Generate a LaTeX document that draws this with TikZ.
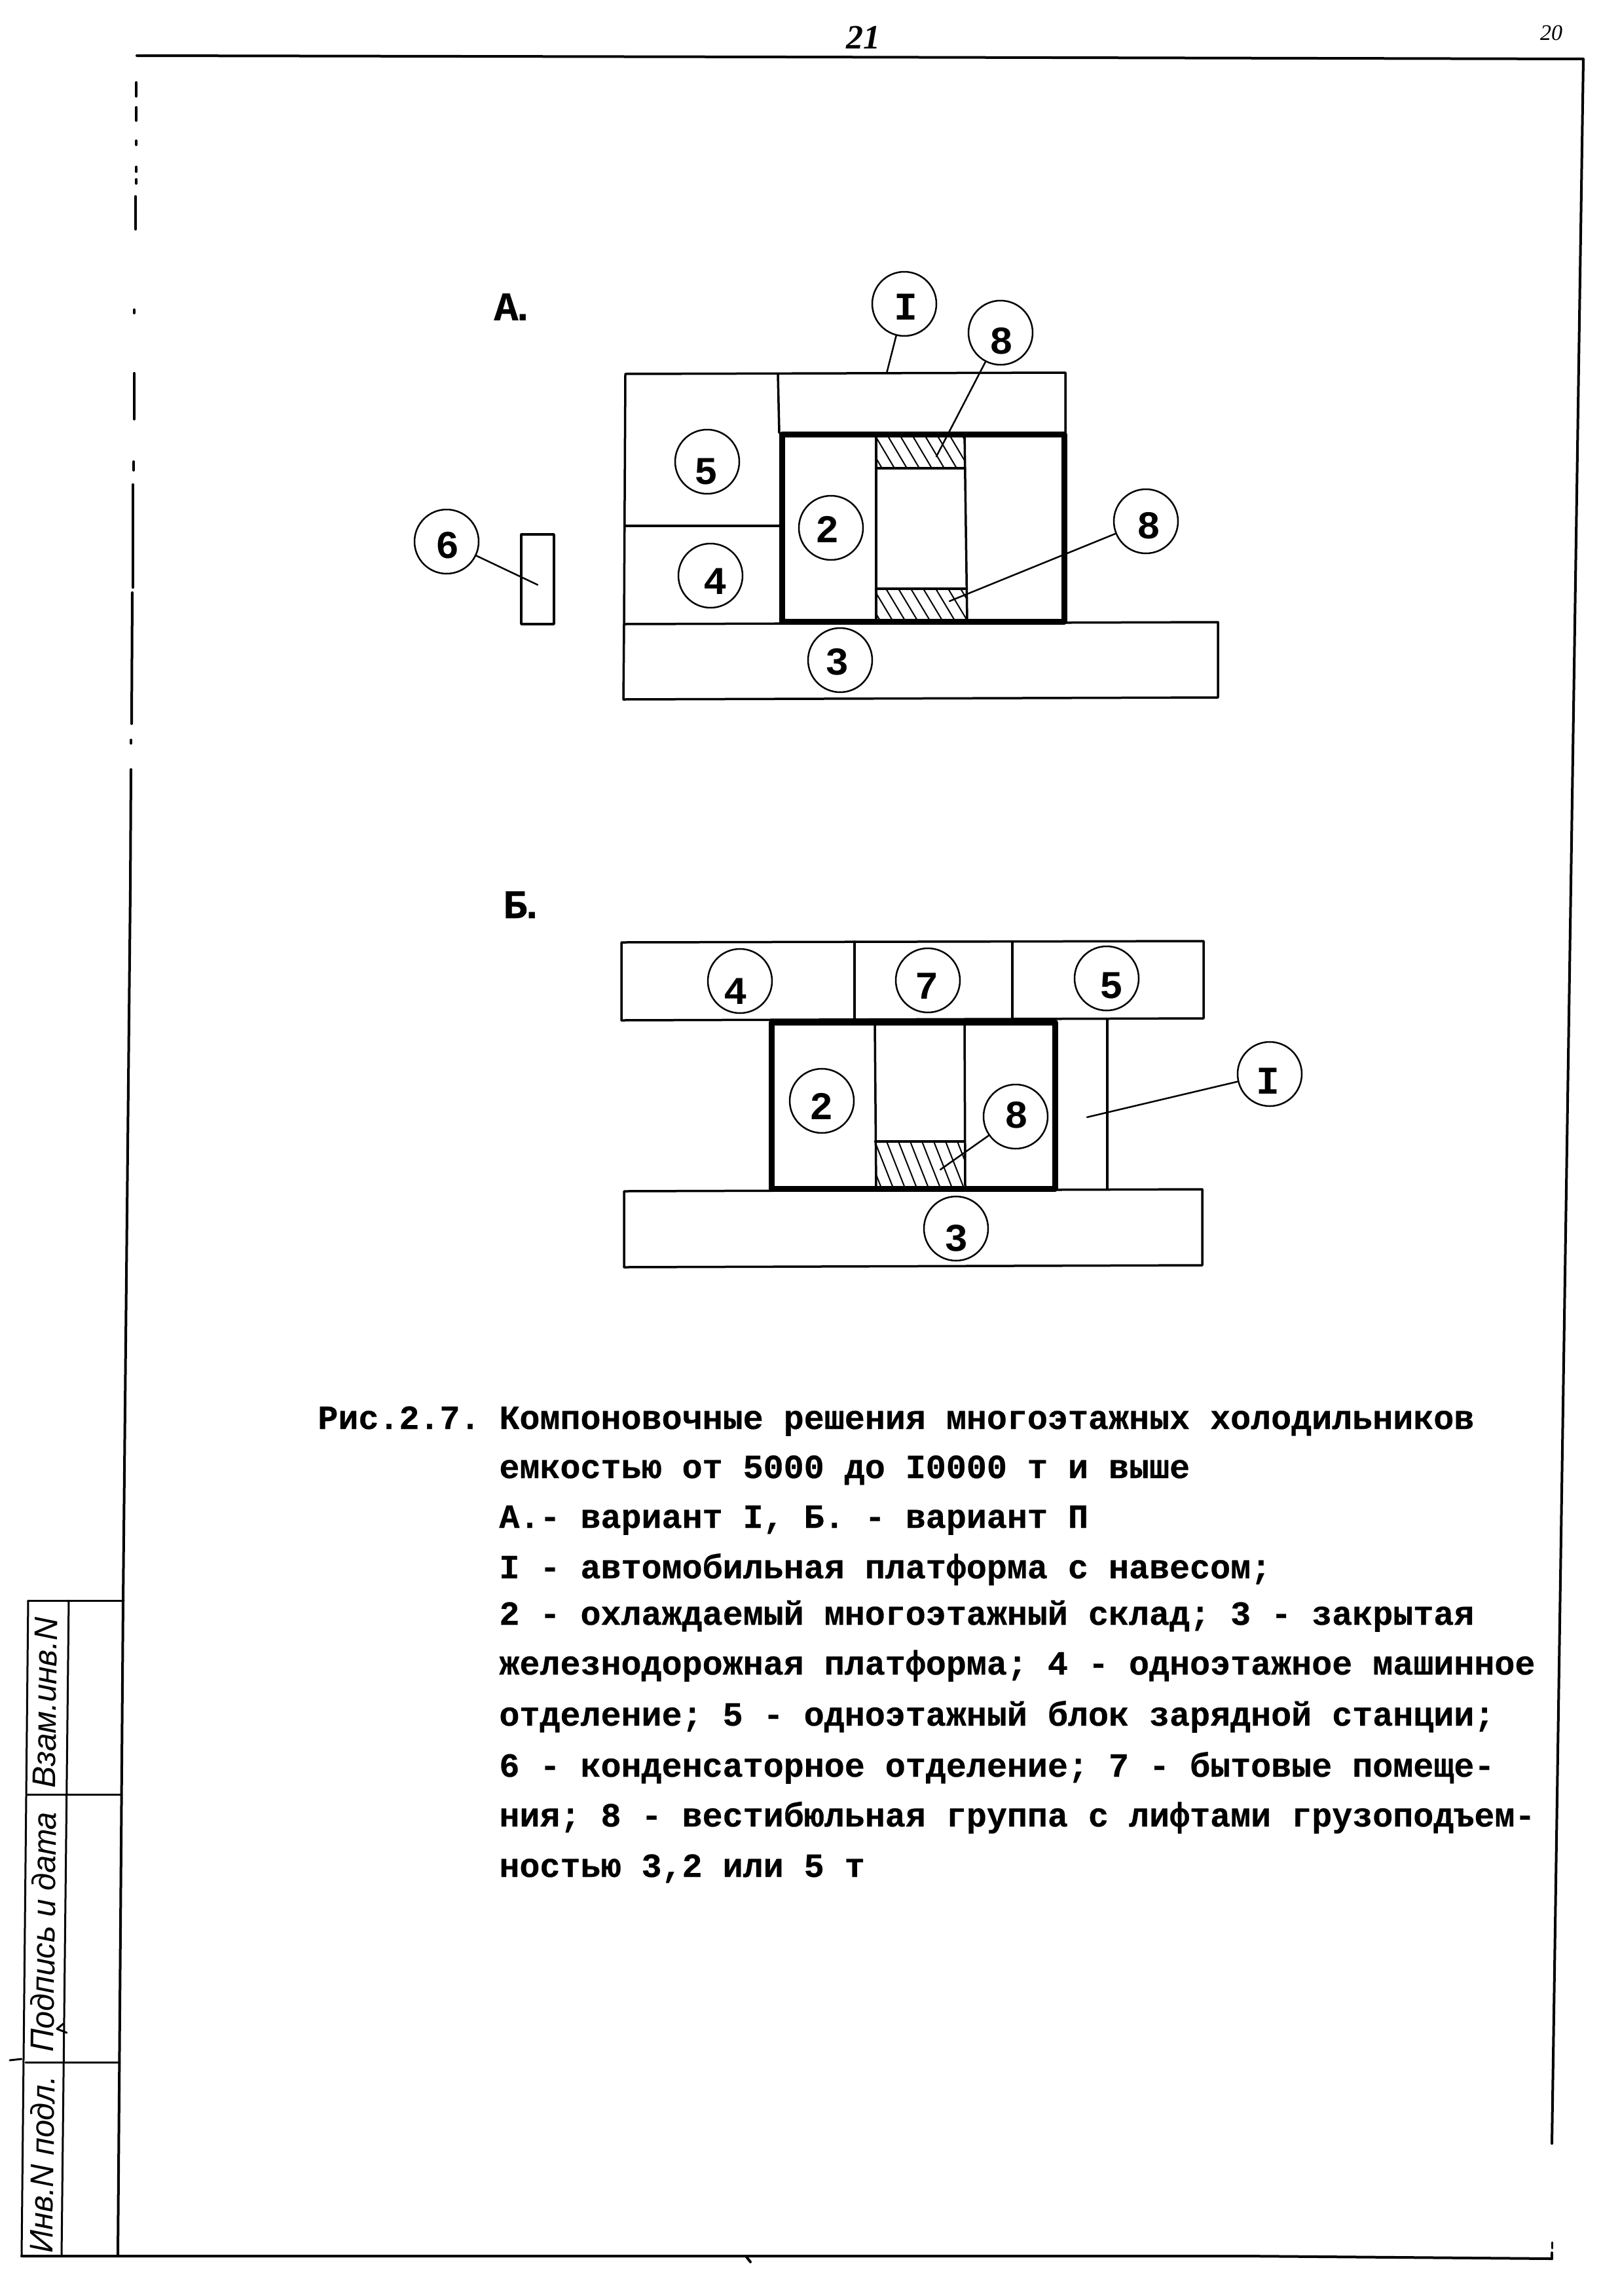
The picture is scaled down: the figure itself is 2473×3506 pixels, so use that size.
\documentclass[tikz,border=0pt]{standalone}
\usepackage{fontspec}
\setmonofont{Liberation Mono}
\newfontfamily\capfont[BoldFeatures={FakeBold=0.5}]{Liberation Mono}
\newfontfamily\handfont{Liberation Sans}
\newfontfamily\pagefont{Liberation Serif}
% digit inside a callout, off-centre by #1,#2 reference pixels, as typed on the original
\newcommand\dg[3]{\smash{\makebox[0pt]{\hspace{#1pt}\raisebox{\dimexpr-10pt-0.5pt*#2\relax}{#3}}}}
\tikzset{
  thinln/.style={line width=1.75pt,black},
  thickln/.style={line width=4.5pt,black},
  frameln/.style={line width=2pt,black},
  stampln/.style={line width=1.5pt,black},
  leader/.style={line width=1.25pt,black},
  hatchln/.style={line width=1pt,black},
  callout/.style={circle,draw,line width=1.25pt,fill=white,minimum size=49pt,inner sep=0pt,
    font=\ttfamily\bfseries\fontsize{30pt}{30pt}\selectfont},
  capline/.style={anchor=base west,inner sep=0pt,
    font=\capfont\bfseries\fontsize{25.85pt}{30pt}\selectfont},
  varlabel/.style={anchor=base west,inner sep=0pt,
    font=\capfont\bfseries\fontsize{31pt}{31pt}\selectfont},
  stamptext/.style={inner sep=0pt,rotate=89.3,
    font=\handfont\itshape\fontsize{25pt}{30pt}\selectfont},
}
\begin{document}
\begin{tikzpicture}[x=0.5pt,y=-0.5pt,line cap=round,line join=round]
\useasboundingbox (0,0) rectangle (2473,3506);
\fill[white] (0,0) rectangle (2473,3506);

% ---------- sheet frame
\draw[frameln] (209,85) -- (1200,87) -- (2418,90) -- (2370,3273);
\draw[frameln] (33,3445) -- (1900,3445) -- (2370,3449);
\draw[frameln] (1139,3445) -- (1146,3454);
\draw[frameln] (2370,3440) -- (2370,3449);
\draw[stampln] (2370,3424) -- (2370,3433);
% broken left edge of the frame
\draw[frameln] (208,126) -- (208,147);
\draw[frameln] (208,164) -- (208,184);
\draw[frameln] (208,215) -- (208,221);
\draw[frameln] (208,255) -- (208,262);
\draw[frameln] (208,274) -- (208,280);
\draw[frameln] (207,300) -- (207,350);
\draw[frameln] (205,473) -- (205,478);
\draw[frameln] (205,570) -- (205,640);
\draw[frameln] (204,705) -- (204,718);
\draw[frameln] (203,740) -- (203,897);
\draw[frameln] (202,905) -- (201,1105);
\draw[frameln] (200,1130) -- (200,1135);
\draw[frameln] (200,1175) -- (199,1360) -- (188,2444) -- (180,3445);

% ---------- stamp column
\draw[stampln] (43,2444) -- (189,2444);
\draw[stampln] (42,2740) -- (186,2740);
\draw[stampln] (39,3149) -- (183,3149);
\draw[stampln] (43,2444) -- (33,3445);
\draw[stampln] (105,2444) -- (94,3445);
\draw[stampln] (97,3090) -- (87,3098) -- (102,3104);
\draw[stampln] (15,3146) -- (33,3144);
\node[stamptext] (st1) at (64,3305) {\resizebox{135pt}{\height}{Инв.N подл.}};
\node[stamptext] (st2) at (66,2950) {\resizebox{183pt}{\height}{Подпись и дата}};
\node[stamptext] (st3) at (69,2600) {\resizebox{130pt}{\height}{Взам.инв.N}};

% ---------- page numbers
\node[inner sep=0pt,font=\pagefont\bfseries\itshape\fontsize{26pt}{26pt}\selectfont] (pg1) at (1318,57) {21};
\node[inner sep=0pt,font=\pagefont\itshape\fontsize{17pt}{17pt}\selectfont] (pg2) at (2369,50) {20};

% ---------- variant A
\node[varlabel] (la) at (754,489) {А\kern-6pt.};
\draw[thinln] (955,571) -- (1627,569) -- (1627,661);
\draw[thinln] (955,571) -- (953,953);
\draw[thinln] (1188,571) -- (1190,661);
\draw[thinln] (954,803) -- (1194,803);
\draw[thinln] (953,953) -- (1860,950) -- (1860,1065) -- (952,1068) -- cycle;
\draw[thinln] (796,816) rectangle (846,953);
\begin{scope}
  \clip (1338,661) rectangle (1474,715);
  \foreach \k in {0,...,9}
    \draw[hatchln] ({1296+19*\k},661) -- ({1328+19*\k},715);
\end{scope}
\begin{scope}
  \clip (1338,899) rectangle (1475,949);
  \foreach \k in {0,...,9}
    \draw[hatchln] ({1296+19*\k},899) -- ({1326+19*\k},949);
\end{scope}
\draw[thinln] (1338,661) -- (1338,949);
\draw[thinln] (1473,661) -- (1477,949);
\draw[line width=2.25pt] (1338,715) -- (1473,715);
\draw[line width=2.25pt] (1338,899) -- (1476,899);
\draw[thickln] (1194,663) rectangle (1625,949);

\coordinate (ta1) at (1354,570);
\coordinate (ta8) at (1430,697);
\coordinate (tb8) at (1450,918);
\coordinate (ta6) at (821,893);
\node[callout] (aI) at (1381,464) {\dg{2}{4}{I}};
\node[callout] (a8u) at (1528,508) {\dg{1}{12}{8}};
\node[callout] (a5) at (1080,705) {\dg{-2}{14}{5}};
\node[callout] (a2) at (1269,806) {\dg{-6}{2}{2}};
\node[callout] (a8l) at (1750,796) {\dg{4}{6}{8}};
\node[callout] (a6) at (682,827) {\dg{1}{5}{6}};
\node[callout] (a4) at (1085,879) {\dg{7}{8}{4}};
\node[callout] (a3) at (1283,1008) {\dg{-5}{2}{3}};
\draw[leader] (aI) -- (ta1);
\draw[leader] (a8u) -- (ta8);
\draw[leader] (a8l) -- (tb8);
\draw[leader] (a6) -- (ta6);

% ---------- variant B
\node[varlabel] (lb) at (768,1402) {Б\kern-6pt.};
\draw[thinln] (949,1439) -- (1838,1437) -- (1838,1555) -- (949,1558) -- cycle;
\draw[thinln] (1305,1438) -- (1305,1557);
\draw[thinln] (1546,1438) -- (1546,1556);
\draw[thinln] (953,1819) -- (1836,1816) -- (1836,1932) -- (953,1935) -- cycle;
\draw[thinln] (1691,1556) -- (1691,1816);
\begin{scope}
  \clip (1337,1743) rectangle (1473,1814);
  \foreach \k in {0,...,9}
    \draw[hatchln] ({1300+18*\k},1743) -- ({1328+18*\k},1814);
\end{scope}
\draw[thinln] (1336,1561) -- (1338,1814);
\draw[thinln] (1473,1561) -- (1474,1814);
\draw[line width=2.25pt] (1337,1743) -- (1473,1743);
\draw[thickln] (1178,1561) rectangle (1611,1815);

\coordinate (tbI) at (1660,1706);
\coordinate (tb88) at (1436,1786);
\node[callout] (b4) at (1130,1498) {\dg{-7}{15}{4}};
\node[callout] (b7) at (1417,1497) {\dg{-2}{8}{7}};
\node[callout] (b5) at (1690,1494) {\dg{7}{10}{5}};
\node[callout] (b2) at (1255,1681) {\dg{-1}{8}{2}};
\node[callout] (b8) at (1551,1705) {\dg{1}{-3}{8}};
\node[callout] (bI) at (1939,1640) {\dg{-3}{10}{I}};
\node[callout] (b3) at (1460,1876) {\dg{0}{14}{3}};
\draw[leader] (bI) -- (tbI);
\draw[leader] (b8) -- (tb88);

% ---------- caption
\node[capline] (capn) at (485,2182) {Рис.2.7.};
\node[capline] (c1) at (762,2182) {Компоновочные решения многоэтажных холодильников};
\node[capline] (c2) at (762,2257) {емкостью от 5000 до I0000 т и выше};
\node[capline] (c3) at (762,2333) {А.- вариант I, Б. - вариант П};
\node[capline] (c4) at (762,2410) {I - автомобильная платформа с навесом;};
\node[capline] (c5) at (762,2481) {2 - охлаждаемый многоэтажный склад; 3 - закрытая};
\node[capline] (c6) at (762,2557) {железнодорожная платформа; 4 - одноэтажное машинное};
\node[capline] (c7) at (762,2635) {отделение; 5 - одноэтажный блок зарядной станции;};
\node[capline] (c8) at (762,2713) {6 - конденсаторное отделение; 7 - бытовые помеще-};
\node[capline] (c9) at (762,2789) {ния; 8 - вестибюльная группа с лифтами грузоподъем-};
\node[capline] (c10) at (762,2866) {ностью 3,2 или 5 т};
\end{tikzpicture}
\end{document}
